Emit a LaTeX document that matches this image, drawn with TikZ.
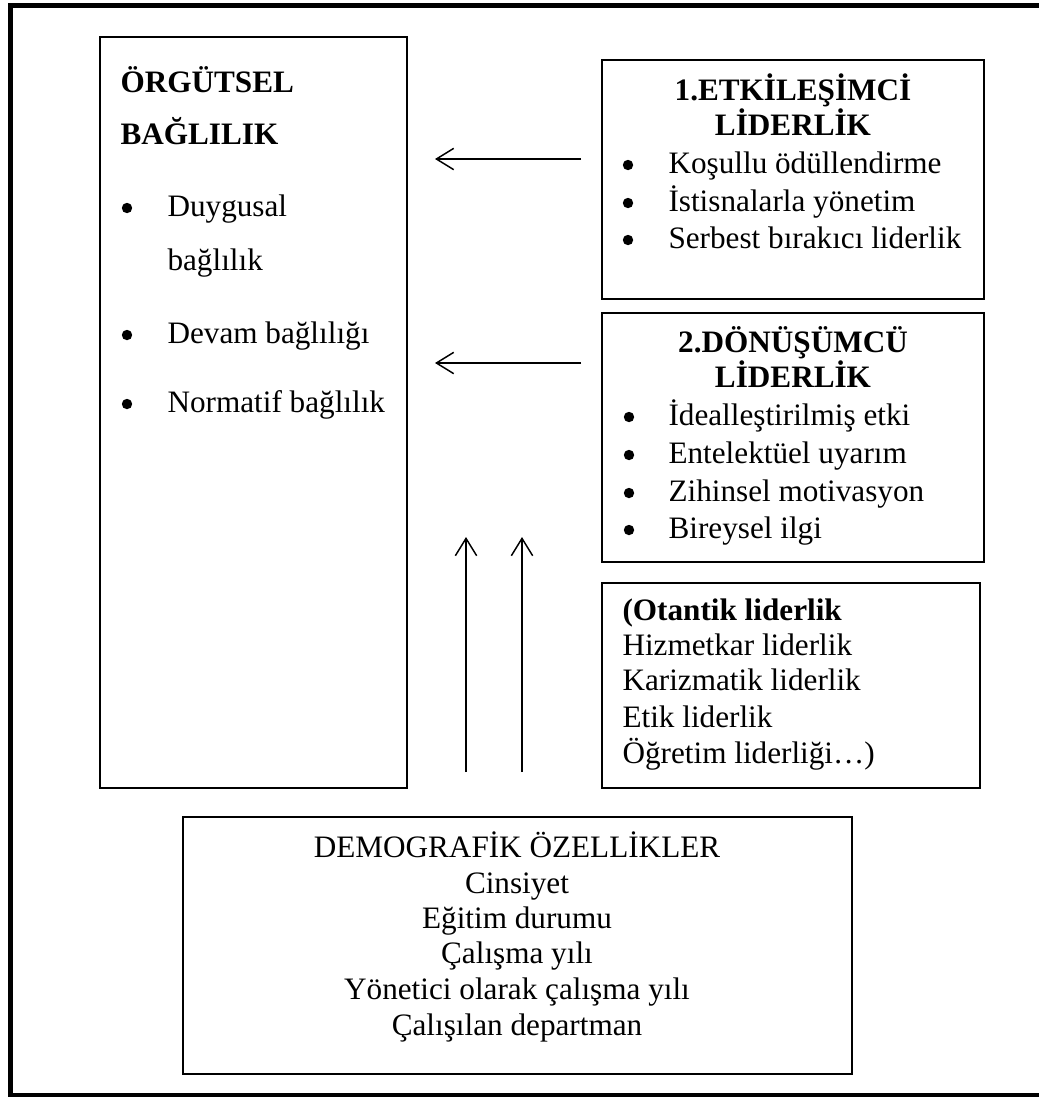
\documentclass[tikz,border=0pt]{standalone}
\usepackage{fontspec}
\setmainfont{Liberation Serif}
\usetikzlibrary{arrows.meta,fit}
\begin{document}
\begin{tikzpicture}[x=0.375pt,y=-0.375pt,
  box/.style={draw,line width=0.65pt,inner sep=0pt},
  thickbox/.style={draw,line width=0.8pt,inner sep=0pt},
  lt/.style={anchor=base west,inner sep=0pt,font=\fontsize{11.7}{14}\selectfont},
  ct/.style={anchor=base,inner sep=0pt,font=\fontsize{11.7}{14}\selectfont},
  blt/.style={anchor=base west,inner sep=0pt,font=\fontsize{11.7}{14}\selectfont\bfseries},
  bct/.style={anchor=base,inner sep=0pt,font=\fontsize{11.7}{14}\selectfont\bfseries},
  dot/.style={circle,fill,inner sep=0pt,minimum size=3.9pt},
  arr/.style={-{Straight Barb[length=6.5pt,width=8pt,line width=0.55pt]},line width=0.55pt}]
\useasboundingbox (0,0) rectangle (1038,1097);
% outer frame (right side lies outside the picture)
\draw[line width=1.9pt] (1060,5.5) -- (10.5,5.5) -- (10.5,1095.5) -- (1060,1095.5);

% boxes
\node[box,fit={(100,37)(407,788)}] (org) {};
\node[thickbox,fit={(602,60)(984,299)}] (etk) {};
\node[thickbox,fit={(602,313)(984,562)}] (don) {};
\node[box,fit={(602,583)(980,788)}] (ota) {};
\node[box,fit={(183,817)(852,1074)}] (dem) {};

% ORGUTSEL BAGLILIK
\node[blt] (o1) at (120,92) {ÖRGÜTSEL};
\node[blt] (o2) at (120,144) {BAĞLILIK};
\node[dot] (ob1) at (127,208) {};
\node[lt] (o3) at (167,216) {Duygusal};
\node[lt] (o4) at (167,270) {bağlılık};
\node[dot] (ob2) at (127,335) {};
\node[lt] (o5) at (167,343) {Devam bağlılığı};
\node[dot] (ob3) at (127,404) {};
\node[lt] (o6) at (167,412) {Normatif bağlılık};

% 1. ETKILESIMCI
\node[bct] (e1) at (793,100) {1.ETKİLEŞİMCİ};
\node[bct] (e2) at (793,135) {LİDERLİK};
\node[dot] (eb1) at (628,165) {};
\node[lt] (e3) at (668,173) {Koşullu ödüllendirme};
\node[dot] (eb2) at (628,203) {};
\node[lt] (e4) at (668,211) {İstisnalarla yönetim};
\node[dot] (eb3) at (628,240) {};
\node[lt] (e5) at (668,248) {Serbest bırakıcı liderlik};

% 2. DONUSUMCU
\node[bct] (d1) at (793,352) {2.DÖNÜŞÜMCÜ};
\node[bct] (d2) at (793,387) {LİDERLİK};
\node[dot] (db1) at (629,417) {};
\node[lt] (d3) at (668,425) {İdealleştirilmiş etki};
\node[dot] (db2) at (629,455) {};
\node[lt] (d4) at (668,463) {Entelektüel uyarım};
\node[dot] (db3) at (629,493) {};
\node[lt] (d5) at (668,501) {Zihinsel motivasyon};
\node[dot] (db4) at (629,530) {};
\node[lt] (d6) at (668,538) {Bireysel ilgi};

% Otantik
\node[blt] (a1) at (622,620) {(Otantik liderlik};
\node[lt] (a2) at (622,655) {Hizmetkar liderlik};
\node[lt] (a3) at (622,690) {Karizmatik liderlik};
\node[lt] (a4) at (622,727) {Etik liderlik};
\node[lt] (a5) at (622,763) {Öğretim liderliği…)};

% Demografik
\node[ct] (m1) at (517,857) {DEMOGRAFİK ÖZELLİKLER};
\node[ct] (m2) at (517,893) {Cinsiyet};
\node[ct] (m3) at (517,928) {Eğitim durumu};
\node[ct] (m4) at (517,963) {Çalışma yılı};
\node[ct] (m5) at (517,999) {Yönetici olarak çalışma yılı};
\node[ct] (m6) at (517,1035) {Çalışılan departman};

% arrows
\coordinate (h1s) at (581,159);
\coordinate (h1e) at (435,159);
\coordinate (h2s) at (581,363);
\coordinate (h2e) at (435,363);
\coordinate (v1s) at (466,772);
\coordinate (v1e) at (466,537);
\coordinate (v2s) at (522,772);
\coordinate (v2e) at (522,537);
\draw[arr] (h1s) -- (h1e);
\draw[arr] (h2s) -- (h2e);
\draw[arr] (v1s) -- (v1e);
\draw[arr] (v2s) -- (v2e);
\end{tikzpicture}
\end{document}
